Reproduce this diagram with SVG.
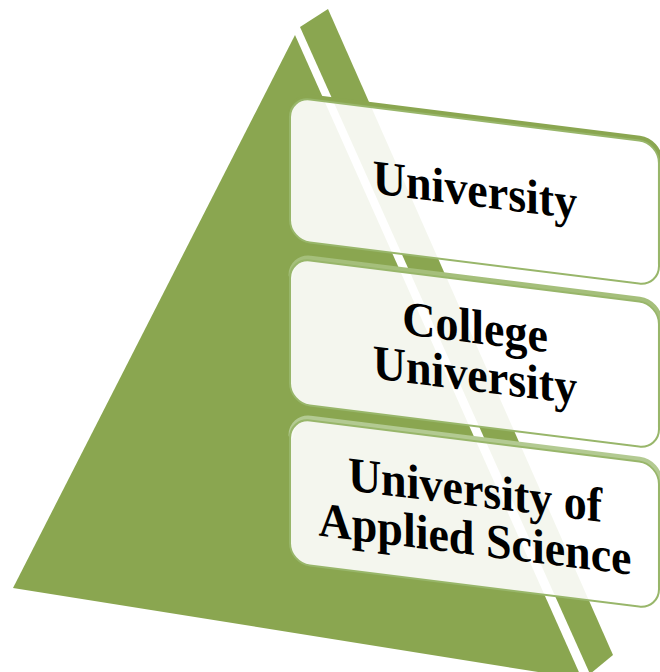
<svg xmlns="http://www.w3.org/2000/svg" width="660" height="672" viewBox="0 0 660 672">
  <style>
    .face { fill: #8aa650; }
    .box { fill: #ffffff; fill-opacity: 0.9; stroke: #98b66a; stroke-width: 2; }
    .band { fill: none; stroke-width: 5; stroke-linecap: round; }
    .lbl { font-family: "Liberation Serif", "Times New Roman", serif; font-weight: bold; font-size: 46px; fill: #000000; text-anchor: middle; }
  </style>
  <rect x="0" y="0" width="660" height="672" fill="#ffffff"/>
  <g id="pyramid">
    <polygon class="face" points="295,35 13,588 582,679"/>
    <polygon class="face" points="300,27 328,9 613,655 590,674"/>
  </g>
  <g id="levels" transform="translate(290,0) skewY(7.125) translate(-290,0)">
    <g id="node-university">
      <path class="band" stroke="#8aa650" transform="translate(1,-2.5)" d="M290,117 A20,20 0 0 1 310,97 H639 A20,20 0 0 1 659,117 V220"/>
      <rect class="box" x="290" y="97" width="369" height="143" rx="20" ry="20"/>
      <text class="lbl" transform="translate(475,183) scale(1,1.06)">University</text>
    </g>
    <g id="node-college-university">
      <path class="band" stroke="#a5bf7b" transform="translate(1,-2.5)" d="M290,278 A20,20 0 0 1 310,258 H639 A20,20 0 0 1 659,278 V383"/>
      <rect class="box" x="290" y="258" width="369" height="145" rx="20" ry="20"/>
      <text class="lbl" transform="translate(475,320) scale(1,1.06)">College</text>
      <text class="lbl" transform="translate(475,368) scale(1,1.06)">University</text>
    </g>
    <g id="node-applied-science">
      <path class="band" stroke="#b3ca92" transform="translate(1,-2.5)" d="M290,438 A20,20 0 0 1 310,418 H639 A20,20 0 0 1 659,438 V543"/>
      <rect class="box" x="290" y="418" width="369" height="145" rx="20" ry="20"/>
      <text class="lbl" transform="translate(475,483) scale(1,1.06)">University of</text>
      <text class="lbl" transform="translate(475,532) scale(1,1.06)">Applied Science</text>
    </g>
  </g>
  <g id="connectors"/>
</svg>
